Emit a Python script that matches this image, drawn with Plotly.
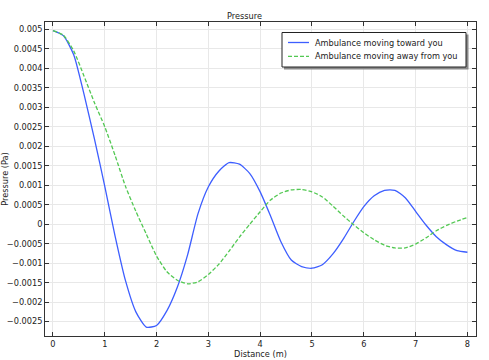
import plotly.graph_objects as go

distance = [0.0, 0.2, 0.4, 0.6, 0.8, 1.0, 1.2, 1.4, 1.6, 1.8, 2.0, 2.2, 2.4, 2.6, 2.8,
            3.0, 3.2, 3.4, 3.6, 3.8, 4.0, 4.2, 4.4, 4.6, 4.8, 5.0, 5.2, 5.4, 5.6, 5.8,
            6.0, 6.2, 6.4, 6.6, 6.8, 7.0, 7.2, 7.4, 7.6, 7.8, 8.0]

# pressure in mPa
toward_mpa = [4.97, 4.84, 4.35, 3.33, 2.19, 0.97, -0.31, -1.45, -2.25, -2.64, -2.60,
              -2.22, -1.62, -0.78, 0.27, 0.96, 1.36, 1.58, 1.54, 1.30, 0.83, 0.21,
              -0.45, -0.92, -1.09, -1.13, -1.04, -0.77, -0.39, 0.05, 0.45, 0.73,
              0.87, 0.87, 0.68, 0.33, -0.02, -0.32, -0.53, -0.68, -0.72]

away_mpa = [4.97, 4.85, 4.45, 3.80, 3.12, 2.50, 1.76, 0.97, 0.33, -0.25, -0.82,
            -1.22, -1.44, -1.53, -1.48, -1.29, -1.03, -0.69, -0.33, 0.00, 0.32,
            0.62, 0.80, 0.88, 0.89, 0.83, 0.70, 0.47, 0.22, -0.01, -0.22, -0.40,
            -0.54, -0.61, -0.61, -0.51, -0.35, -0.17, -0.03, 0.08, 0.17]

toward = [v / 1000 for v in toward_mpa]
away = [v / 1000 for v in away_mpa]

series_names = ["Ambulance moving toward you", "Ambulance moving away from you"]
colors = ["#3d5eff", "#52c852"]
dashes = ["solid", "4px,2px"]

font_family = "DejaVu Sans, Verdana, sans-serif"
fs = 8.2

W, H = 489, 360
ML, MR, MT, MB = 45, 13, 22, 24
PW, PH = W - ML - MR, H - MT - MB


def px_x(px):
    return (px - ML) / PW


def px_y(py):
    return (H - MB - py) / PH


fig = go.Figure()
for name, yv, c, d in zip(series_names, [toward, away], colors, dashes):
    fig.add_trace(go.Scatter(x=distance, y=yv, mode="lines", name=name, showlegend=False,
                             line=dict(color=c, width=1.3, dash=d,
                                       shape="spline", smoothing=0.6)))

axis_common = dict(showline=True, linecolor="#333333", linewidth=1, mirror="ticks",
                   ticks="inside", ticklen=4, tickcolor="#333333", automargin=False,
                   showgrid=True, gridcolor="#e8e8e8", gridwidth=1, zeroline=False,
                   tickfont=dict(size=fs, color="#222222", family=font_family))

# custom legend box (with drop shadow) drawn in paper coordinates
shapes = [
    dict(type="rect", xref="paper", yref="paper", layer="above",
         x0=px_x(284), x1=px_x(468.5), y0=px_y(69.5), y1=px_y(34.5),
         fillcolor="#8a8a8a", line=dict(width=0)),
    dict(type="rect", xref="paper", yref="paper", layer="above",
         x0=px_x(282), x1=px_x(466), y0=px_y(67), y1=px_y(32.5),
         fillcolor="white", line=dict(color="#222222", width=1)),
]
annotations = []
for i, (name, c, d) in enumerate(zip(series_names, colors, dashes)):
    ly = 42.5 + i * 13.8
    shapes.append(dict(type="line", xref="paper", yref="paper", layer="above",
                       x0=px_x(288), x1=px_x(309), y0=px_y(ly), y1=px_y(ly),
                       line=dict(color=c, width=1.3, dash=d)))
    annotations.append(dict(text=name, xref="paper", yref="paper", x=px_x(313), y=px_y(ly),
                            xanchor="left", yanchor="middle", showarrow=False,
                            font=dict(size=fs, family=font_family, color="#222222")))

fig.update_layout(
    width=W, height=H,
    margin=dict(l=ML, r=MR, t=MT, b=MB),
    paper_bgcolor="white", plot_bgcolor="white",
    font=dict(family=font_family, size=fs, color="#222222"),
    title=dict(text="Pressure", x=0.5, xanchor="center", y=0.955, yanchor="middle",
               font=dict(size=fs, family=font_family, color="#222222")),
    xaxis=dict(range=[-0.154, 8.166], dtick=1, tick0=0,
               title=dict(text="Distance (m)", standoff=0, font=dict(size=fs)),
               **axis_common),
    yaxis=dict(range=[-0.00287, 0.00519], dtick=0.0005, tick0=0, tickformat=".4~f",
               title=dict(text="Pressure (Pa)", standoff=4, font=dict(size=fs)),
               **axis_common),
    shapes=shapes,
    annotations=annotations,
    showlegend=False,
)

fig.write_html("out.html", config={"displayModeBar": False},
               post_script="document.body.style.margin='0';")
